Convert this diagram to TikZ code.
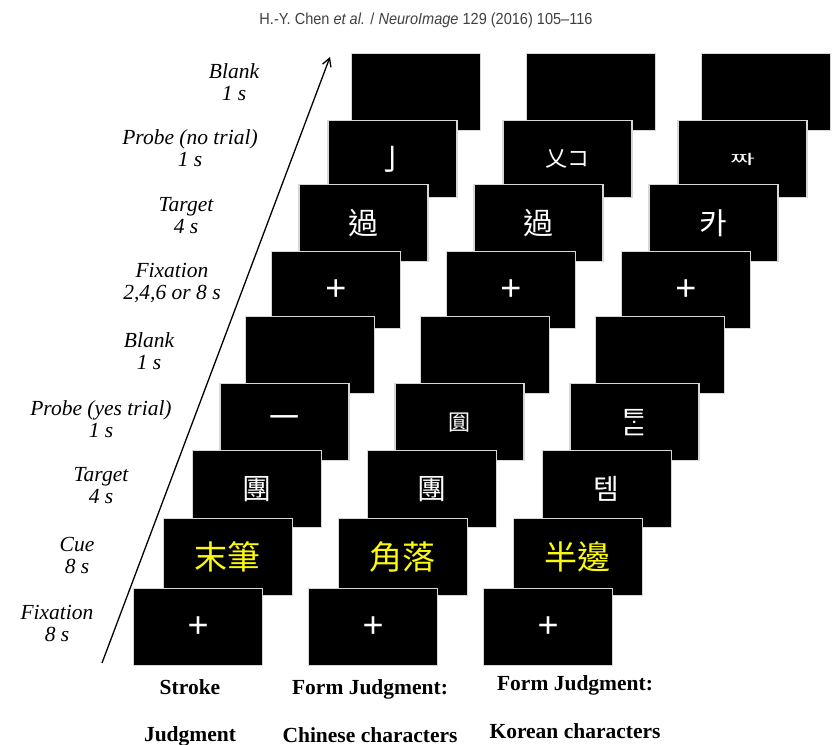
\documentclass[tikz,border=0pt]{standalone}
\usepackage{fontspec}
\usepackage{graphicx}
\setmainfont{Liberation Serif}
\newfontfamily\hdfont{Liberation Sans}
\newfontfamily\tcfont{Noto Sans CJK TC}
\newfontfamily\krfont[Script=Hangul]{Noto Sans CJK KR}
\usetikzlibrary{arrows.meta}
\definecolor{cueyellow}{RGB}{250,250,10}
\definecolor{rim}{RGB}{215,215,215}
\newcommand{\fixmark}{{\hdfont\fontsize{36bp}{36bp}\selectfont +}}
\newcommand{\zh}[2][30bp]{{\tcfont\fontsize{#1}{#1}\selectfont #2}}
\newcommand{\ko}[2][30bp]{{\krfont\fontsize{#1}{#1}\selectfont #2}}
\begin{document}
\begin{tikzpicture}[x=1bp,y=-1bp,
  screen/.style={fill=black, draw=rim, line width=1.3bp, minimum width=129bp,
    minimum height=77bp, inner sep=0pt, anchor=north west, text=white},
  cuetext/.style={text=cueyellow},
  lbl/.style={font=\fontsize{21.5bp}{22bp}\selectfont\itshape, align=center, inner sep=0pt},
  foot/.style={font=\fontsize{21.5bp}{24bp}\selectfont\bfseries, anchor=base, inner sep=0pt},
  timeline/.style={line width=1.3bp, -{Straight Barb[length=8bp,width=9bp,line width=1.3bp]}}]
\useasboundingbox (0,0) rectangle (837,745);

% header
\node[anchor=base, inner sep=0pt, text=black!75] (header) at (426,25)
  {\resizebox{333bp}{\height}{\hdfont\fontsize{16bp}{18bp}\selectfont H.-Y. Chen \textit{et al.} / \textit{NeuroImage} 129 (2016) 105–116}};

% row 8: Blank
\node[screen] (s8a) at (351,53) {};
\node[screen] (s8b) at (526,53) {};
\node[screen] (s8c) at (701,53) {};
% row 7: Probe (no trial)
\node[screen] (s7a) at (327.3,120) {\zh{亅}};
\node[screen] (s7b) at (502.3,120) {\zh[22bp]{乂コ}};
\node[screen] (s7c) at (677.3,120) {\scalebox{1}[0.5]{\ko[27bp]{짜}}};
% row 6: Target
\node[screen] (s6a) at (298.3,184) {\zh{過}};
\node[screen] (s6b) at (473.3,184) {\zh{過}};
\node[screen] (s6c) at (648.3,184) {\ko{카}};
% row 5: Fixation
\node[screen] (s5a) at (270.7,251) {\fixmark};
\node[screen] (s5b) at (445.7,251) {\fixmark};
\node[screen] (s5c) at (620.7,251) {\fixmark};
% row 4: Blank
\node[screen] (s4a) at (245,316) {};
\node[screen] (s4b) at (420,316) {};
\node[screen] (s4c) at (595,316) {};
% row 3: Probe (yes trial)
\node[screen] (s3a) at (219.3,383) {\zh{一}};
\node[screen] (s3b) at (394.3,383) {\zh[22bp]{圎}};
\node[screen] (s3c) at (569.3,383) {\ko[30bp]{ᄐᆞᆮ}};
% row 2: Target
\node[screen] (s2a) at (191.7,450) {\zh[29bp]{團}};
\node[screen] (s2b) at (366.7,450) {\zh[29bp]{團}};
\node[screen] (s2c) at (541.7,450) {\ko[28bp]{템}};
% row 1: Cue
\node[screen, cuetext] (s1a) at (162.7,518) {\zh[33bp]{末筆}};
\node[screen, cuetext] (s1b) at (337.7,518) {\zh[33bp]{角落}};
\node[screen, cuetext] (s1c) at (512.7,518) {\zh[33bp]{半邊}};
% row 0: Fixation
\node[screen] (s0a) at (133,588) {\fixmark};
\node[screen] (s0b) at (308,588) {\fixmark};
\node[screen] (s0c) at (483,588) {\fixmark};

% time arrow
\coordinate (tstart) at (102,663);
\coordinate (tend) at (330,57);
\draw[timeline] (tstart) -- (tend);

% phase labels
\node[lbl] (l8) at (234,82) {Blank\\1 s};
\node[lbl] (l7) at (190,148) {Probe (no trial)\\1 s};
\node[lbl] (l6) at (186,216) {Target\\4 s};
\node[lbl] (l5) at (172,283) {Fixation\\2,4,6 or 8 s};
\node[lbl] (l4) at (149,351) {Blank\\1 s};
\node[lbl] (l3) at (101,419) {Probe (yes trial)\\1 s};
\node[lbl] (l2) at (101,486) {Target\\4 s};
\node[lbl] (l1) at (77,555) {Cue\\8 s};
\node[lbl] (l0) at (57,623) {Fixation\\8 s};

% task labels
\node[foot] (f1a) at (190,694) {Stroke};
\node[foot] (f1b) at (190,741) {Judgment};
\node[foot] (f2a) at (370,694) {Form Judgment:};
\node[foot] (f2b) at (370,742) {Chinese characters};
\node[foot] (f3a) at (575,690) {Form Judgment:};
\node[foot] (f3b) at (575,738) {Korean characters};
\end{tikzpicture}
\end{document}
